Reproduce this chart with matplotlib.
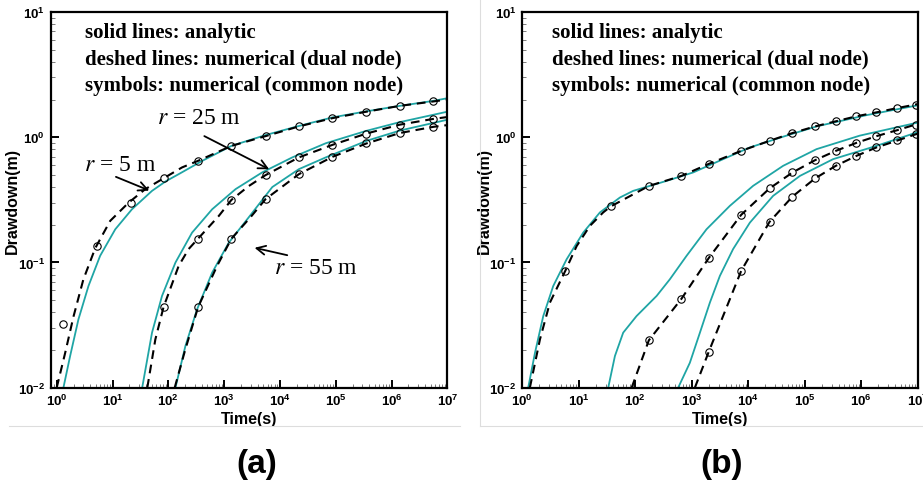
import matplotlib
matplotlib.use('Agg')
import matplotlib.pyplot as plt
from matplotlib.lines import Line2D
from matplotlib.ticker import LogLocator, NullFormatter

plt.rcParams['font.family'] = ['Liberation Sans', 'DejaVu Sans']
plt.rcParams['mathtext.fontset'] = 'stix'

# ---------------- panel (a) ----------------
# symbols: numerical (common node)
ta_sym = [1.3, 5.2, 21, 82, 340, 1350, 5500, 2.18e4, 8.7e4, 3.54e5, 1.4e6, 5.56e6]
sa5_sym = [0.032, 0.135, 0.296, 0.469, 0.648, 0.853, 1.02, 1.22, 1.42, 1.60, 1.78, 1.93]
sa25_sym = [0.044, 0.155, 0.316, 0.498, 0.690, 0.869, 1.07, 1.26, 1.40]   # from t = 82
sa55_sym = [0.044, 0.155, 0.320, 0.507, 0.697, 0.892, 1.08, 1.21]         # from t = 340

# solid lines: analytic
ta5_an = [1.32, 1.74, 2.45, 3.71, 6.0, 11.2, 22.3, 51, 90, 153, 403, 1350, 5500, 2.18e4, 8.7e4, 3.54e5, 1.4e6, 5.56e6, 1e7]
sa5_an = [0.01, 0.0179, 0.0351, 0.0649, 0.113, 0.184, 0.266, 0.373, 0.445, 0.507, 0.647, 0.853, 1.04, 1.23, 1.44, 1.61, 1.78, 1.95, 2.05]
ta25_an = [34, 51, 77, 134, 266, 610, 1600, 4810, 1.66e4, 6.6e4, 3.54e5, 1.4e6, 1e7]
sa25_an = [0.01, 0.0275, 0.054, 0.0998, 0.173, 0.266, 0.385, 0.524, 0.690, 0.895, 1.125, 1.32, 1.60]
ta55_an = [134, 202, 327, 610, 1210, 2770, 7280, 2.18e4, 6.6e4, 3.54e5, 1.4e6, 1e7]
sa55_an = [0.01, 0.0215, 0.0422, 0.083, 0.144, 0.23, 0.40, 0.556, 0.69, 0.935, 1.13, 1.38]

# dashed lines: numerical (dual node)
ta5_num = [1.0, 1.42, 2.0, 3.0, 4.9, 9.1, 19.4, 38.6, 77, 176, 341, 1350, 5500, 2.18e4, 8.7e4, 3.54e5, 1.4e6, 5.56e6, 1e7]
sa5_num = [0.01, 0.019, 0.037, 0.073, 0.13, 0.215, 0.30, 0.385, 0.462, 0.574, 0.648, 0.853, 1.02, 1.22, 1.42, 1.60, 1.78, 1.93, 2.0]
ta25_num = [42, 58.5, 82, 153, 231, 341, 800, 1350, 2770, 5500, 2.18e4, 8.7e4, 3.54e5, 1.4e6, 5.56e6, 1e7]
sa25_num = [0.01, 0.0243, 0.044, 0.0938, 0.128, 0.155, 0.235, 0.316, 0.408, 0.498, 0.690, 0.869, 1.07, 1.26, 1.40, 1.45]
ta55_num = [130, 200, 341, 748, 1350, 2970, 5500, 2.18e4, 8.7e4, 3.54e5, 1.4e6, 5.56e6, 1e7]
sa55_num = [0.01, 0.02, 0.044, 0.094, 0.155, 0.23, 0.32, 0.507, 0.697, 0.892, 1.08, 1.21, 1.25]

# ---------------- panel (b) ----------------
tb_sym = [5.8, 37, 175, 660, 2000, 7500, 2.38e4, 6.06e4, 1.52e5, 3.53e5, 8.2e5, 1.85e6, 4.35e6, 9.4e6]
sb5_sym = [0.0855, 0.280, 0.408, 0.491, 0.612, 0.778, 0.936, 1.08, 1.22, 1.34, 1.47, 1.58, 1.71, 1.82]
sb25_sym = [0.0239, 0.0514, 0.1086, 0.240, 0.390, 0.523, 0.656, 0.778, 0.902, 1.02, 1.14, 1.26]   # from t = 175
sb55_sym = [0.0194, 0.0855, 0.211, 0.336, 0.469, 0.591, 0.710, 0.829, 0.942, 1.06]               # from t = 2000

tb5_an = [1.29, 1.70, 2.38, 3.57, 6.16, 12.1, 23.9, 53.9, 92.5, 360, 1060, 3600, 1.07e4, 4.14e4, 1.61e5, 1.23e6, 1e7]
sb5_an = [0.01, 0.019, 0.0373, 0.0648, 0.106, 0.173, 0.251, 0.330, 0.373, 0.448, 0.523, 0.668, 0.829, 1.01, 1.22, 1.50, 1.80]
tb25_an = [33.5, 44, 61.6, 106, 240, 412, 813, 1830, 4730, 1.22e4, 4.14e4, 1.61e5, 9.4e5, 1e7]
sb25_an = [0.01, 0.0179, 0.0275, 0.0373, 0.054, 0.0734, 0.113, 0.184, 0.283, 0.409, 0.591, 0.803, 1.03, 1.31]
tb55_an = [578, 929, 1400, 2100, 3150, 5410, 1.07e4, 2.75e4, 8.2e4, 3.16e5, 1.85e6, 1e7]
sb55_an = [0.01, 0.0158, 0.0275, 0.0478, 0.078, 0.128, 0.208, 0.340, 0.491, 0.668, 0.853, 1.10]

tb5_num = [1.38, 2.08, 3.12, 5.82, 9.25, 15.9, 27.3, 37, 175, 660, 2000, 7500, 2.38e4, 6.06e4, 1.52e5, 3.53e5, 8.2e5, 1.85e6, 4.35e6, 1e7]
sb5_num = [0.01, 0.0243, 0.0478, 0.0855, 0.135, 0.196, 0.251, 0.280, 0.408, 0.491, 0.612, 0.778, 0.936, 1.08, 1.22, 1.34, 1.47, 1.58, 1.71, 1.84]
tb25_num = [87, 175, 663, 2010, 7500, 2.38e4, 6.06e4, 1.52e5, 3.53e5, 8.2e5, 1.85e6, 4.35e6, 1e7]
sb25_num = [0.01, 0.0239, 0.0514, 0.1086, 0.240, 0.390, 0.523, 0.656, 0.778, 0.902, 1.02, 1.14, 1.28]
tb55_num = [1140, 2010, 7500, 2.38e4, 6.06e4, 1.52e5, 3.53e5, 8.2e5, 1.85e6, 4.35e6, 1e7]
sb55_num = [0.01, 0.0194, 0.0855, 0.211, 0.336, 0.469, 0.591, 0.710, 0.829, 0.942, 1.07]

x_exps = [0, 1, 2, 3, 4, 5, 6, 7]
y_exps = [-2, -1, 0, 1]

legend_lines = ['solid lines: analytic',
                'deshed lines: numerical (dual node)',
                'symbols: numerical (common node)']

teal = '#1fa5a5'


def draw_panel(ax, analytic, numeric, symbols, xmin):
    for t, s in analytic:
        ax.plot(t, s, color=teal, lw=1.3, zorder=2)
    for t, s in numeric:
        ax.plot(t, s, color='black', lw=1.5, ls=(0, (4.2, 2.8)), zorder=3)
    for t, s in symbols:
        ax.plot(t, s, ls='none', marker='o', ms=5.3, mfc='none', mec='black', mew=0.8, zorder=4)
    ax.set_xscale('log')
    ax.set_yscale('log')
    ax.set_xticks([10.0 ** e for e in x_exps])
    ax.set_xticklabels([r'$\mathdefault{10^{%d}}$' % e for e in x_exps], fontweight='bold')
    ax.set_yticks([10.0 ** e for e in y_exps])
    ax.set_yticklabels([r'$\mathdefault{10^{%d}}$' % e for e in y_exps], fontweight='bold')
    ax.xaxis.set_minor_locator(LogLocator(base=10, subs=range(2, 10), numticks=20))
    ax.yaxis.set_minor_locator(LogLocator(base=10, subs=range(2, 10), numticks=20))
    ax.xaxis.set_minor_formatter(NullFormatter())
    ax.yaxis.set_minor_formatter(NullFormatter())
    ax.set_xlim(xmin, 1e7)
    ax.set_ylim(0.01, 10)
    ax.tick_params(which='major', direction='in', length=6, width=1.4, labelsize=9.5, pad=4)
    ax.tick_params(which='minor', direction='in', length=3, width=0.6, color='#666666')
    for sp in ax.spines.values():
        sp.set_linewidth(1.6)
    ax.set_xlabel('Time(s)', fontsize=11.5, fontweight='bold')
    ax.set_ylabel('Drawdown(m)', fontsize=11.5, fontweight='bold')
    ax.xaxis.set_label_coords(0.5, -0.062)
    ax.yaxis.set_label_coords(-0.077, 0.5)


fig = plt.figure(figsize=(9.23, 4.85), dpi=100)
ax_a = fig.add_axes([0.0549, 0.1986, 0.4299, 0.7746])
ax_b = fig.add_axes([0.5655, 0.1986, 0.4290, 0.7746])

draw_panel(ax_a,
           [(ta5_an, sa5_an), (ta25_an, sa25_an), (ta55_an, sa55_an)],
           [(ta5_num, sa5_num), (ta25_num, sa25_num), (ta55_num, sa55_num)],
           [(ta_sym, sa5_sym), (ta_sym[3:], sa25_sym), (ta_sym[4:], sa55_sym)],
           0.78)
draw_panel(ax_b,
           [(tb5_an, sb5_an), (tb25_an, sb25_an), (tb55_an, sb55_an)],
           [(tb5_num, sb5_num), (tb25_num, sb25_num), (tb55_num, sb55_num)],
           [(tb_sym, sb5_sym), (tb_sym[2:], sb25_sym), (tb_sym[4:], sb55_sym)],
           1.0)

for ax, x0 in ((ax_a, 0.086), (ax_b, 0.075)):
    for line, y in zip(legend_lines, (0.946, 0.875, 0.806)):
        ax.text(x0, y, line, transform=ax.transAxes, fontsize=15,
                family='Liberation Serif', fontweight='bold', va='center', ha='left')

# radius annotations on panel (a)
labels_r = [('$r$ = 5 m', (0.175, 0.595), (0.158, 0.564), (0.255, 0.522)),
            ('$r$ = 25 m', (0.374, 0.720), (0.381, 0.673), (0.557, 0.578)),
            ('$r$ = 55 m', (0.669, 0.319), (0.603, 0.351), (0.507, 0.374))]
for txt, pos, tail, head in labels_r:
    ax_a.text(pos[0], pos[1], txt, transform=ax_a.transAxes, fontsize=17,
              family='Liberation Serif', ha='center', va='center')
    ax_a.annotate('', xy=head, xytext=tail, xycoords='axes fraction',
                  textcoords='axes fraction',
                  arrowprops=dict(arrowstyle='->', lw=1.3, color='black', mutation_scale=16))

fig.text(257 / 923, 1 - 465 / 485, '(a)', fontsize=24, fontweight='bold', ha='center', va='center')
fig.text(722 / 923, 1 - 465 / 485, '(b)', fontsize=24, fontweight='bold', ha='center', va='center')

# light frame lines of the original sub-figures
yl = 1 - 427 / 485
fig.add_artist(Line2D([9 / 923, 460 / 923], [yl, yl], color='#dddddd', lw=0.8))
fig.add_artist(Line2D([480 / 923, 1.0], [yl, yl], color='#dddddd', lw=0.8))
fig.add_artist(Line2D([480 / 923, 480 / 923], [yl, 1.0], color='#dddddd', lw=0.8))

fig.savefig('out.png', dpi=100)
